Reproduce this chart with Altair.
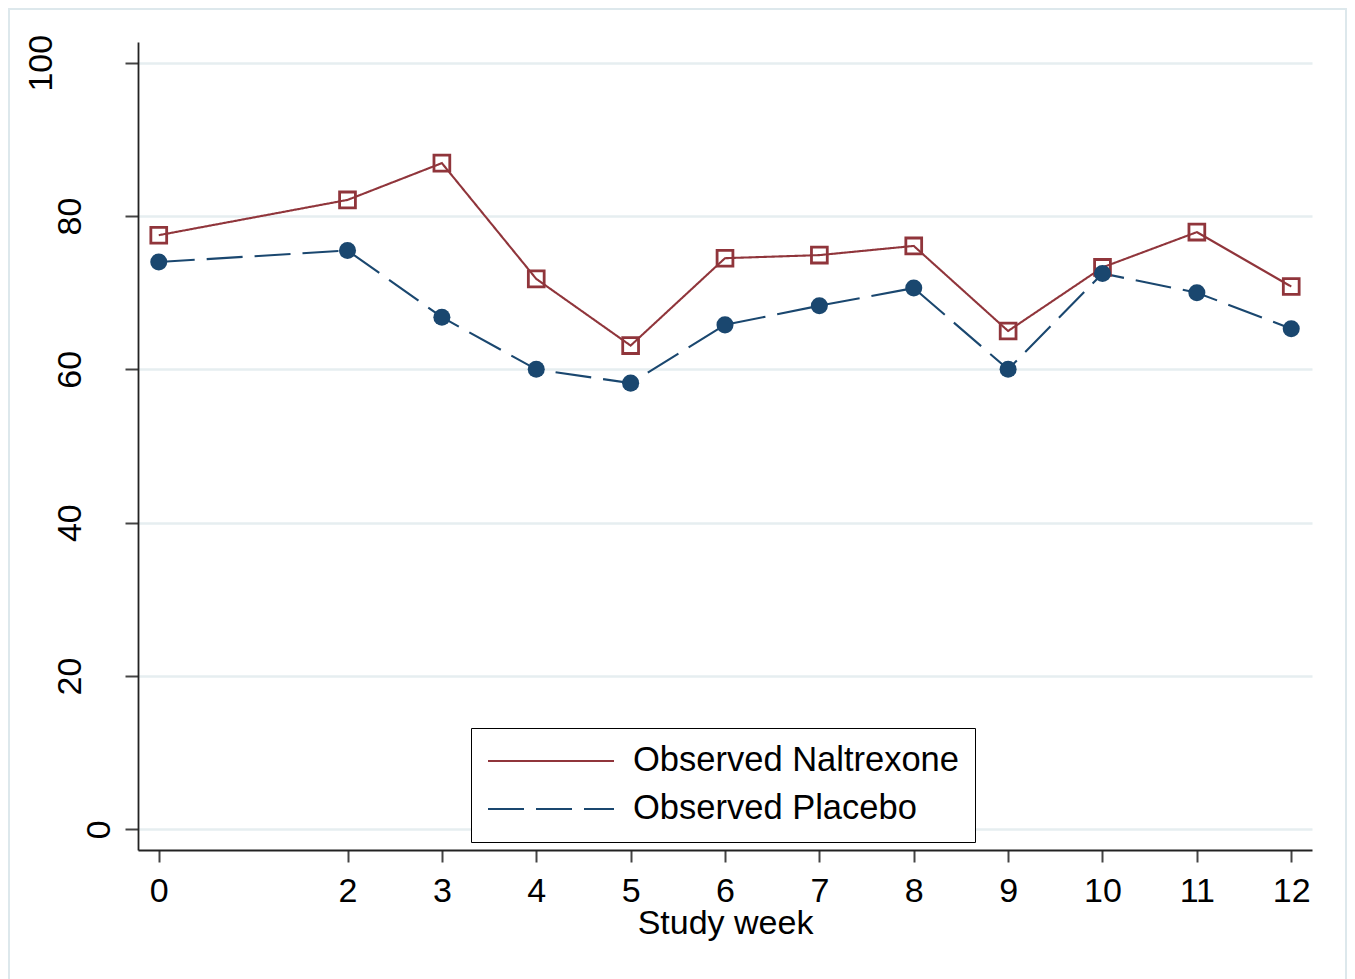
import altair as alt
import pandas as pd

weeks = [0, 2, 3, 4, 5, 6, 7, 8, 9, 10, 11, 12]
naltrexone = [77.5, 82.1, 86.9, 71.8, 63.1, 74.5, 74.9, 76.1, 65.0, 73.3, 77.9, 70.8]
placebo = [74.0, 75.5, 66.8, 60.0, 58.2, 65.8, 68.3, 70.6, 60.0, 72.5, 70.0, 65.3]
series_names = ["Observed Naltrexone", "Observed Placebo"]
y_ticks = [0, 20, 40, 60, 80, 100]
x_title = "Study week"

RED = "#90353B"
NAVY = "#1A476F"
GRID = "#E6EEF0"
FONT = "Liberation Sans"

rows = []
for w, v in zip(weeks, naltrexone):
    rows.append({"week": w, "value": v, "series": series_names[0]})
for w, v in zip(weeks, placebo):
    rows.append({"week": w, "value": v, "series": series_names[1]})
df = pd.DataFrame(rows)
df_n = df[df.series == series_names[0]]
df_p = df[df.series == series_names[1]]

xscale = alt.Scale(domain=[-0.22, 12.22], nice=False, zero=False)
yscale = alt.Scale(domain=[-2.7, 102.7], nice=False, zero=False)

xaxis = alt.Axis(
    values=weeks, format="d", title=x_title, grid=False, tickSize=12, tickWidth=2,
    tickColor="#444444", domainColor="#222222", domainWidth=1.8,
    labelFont=FONT, labelFontSize=34, labelColor="black",
    labelBaseline="alphabetic", labelPadding=39, labelFlush=False,
    titleFont=FONT, titleFontSize=34, titleFontWeight="normal", titleColor="black",
    titleBaseline="alphabetic", titleY=83,
)
yaxis = alt.Axis(
    values=y_ticks, format="d", title=None, grid=True, gridColor=GRID, gridWidth=2.5,
    tickSize=13, tickWidth=2, tickColor="#444444", domainColor="#222222", domainWidth=1.8,
    labelFont=FONT, labelFontSize=34, labelColor="black", labelAngle=270,
    labelAlign="center", labelBaseline="alphabetic", labelFlush=False,
    labelPadding={"condition": [{"test": "datum.value == 0", "value": 16},
                                {"test": "datum.value == 100", "value": 74}],
                  "value": 45},
)

color = alt.Color("series:N", scale=alt.Scale(domain=series_names, range=[RED, NAVY]),
                  legend=alt.Legend(
                      title=None, orient="none", legendX=333, legendY=686,
                      symbolType="stroke", symbolSize=15876, symbolStrokeWidth=2,
                      clipHeight=34, labelOffset=18, rowPadding=13, padding=16,
                      labelFont=FONT, labelFontSize=34.5, labelColor="black", labelLimit=0,
                      strokeColor="black", fillColor="white",
                  ))
dash = alt.StrokeDash("series:N", scale=alt.Scale(domain=series_names, range=[[1, 0], [36, 12]]),
                      legend=alt.Legend(title=None, orient="none", legendX=333, legendY=686))

base_x = alt.X("week:Q", scale=xscale, axis=xaxis)
base_y = alt.Y("value:Q", scale=yscale, axis=yaxis)

frame = alt.Chart(pd.DataFrame({"a": [0]})).mark_rect(
    fill="transparent", stroke="#DDE8EC", strokeWidth=2
).encode(x=alt.value(-129), x2=alt.value(1208), y=alt.value(-33), y2=alt.value(945))

lines = alt.Chart(df).mark_line(strokeWidth=2.1).encode(
    x=base_x, y=base_y, color=color, strokeDash=dash, order="week:Q"
)
squares = alt.Chart(df_n).mark_point(
    shape="square", filled=False, size=250, strokeWidth=2.8, color=RED, opacity=1
).encode(x=alt.X("week:Q", scale=xscale), y=alt.Y("value:Q", scale=yscale))
circles = alt.Chart(df_p).mark_circle(size=290, color=NAVY, opacity=1).encode(
    x=alt.X("week:Q", scale=xscale), y=alt.Y("value:Q", scale=yscale)
)

chart = alt.layer(lines, squares, circles, frame).properties(
    width=1174, height=808,
    autosize=alt.AutoSizeParams(type="none"),
    padding={"left": 130, "top": 34, "right": 35, "bottom": 140},
    background="white",
).configure_view(stroke="transparent")

chart.save("out.html", embed_options={"renderer": "svg", "actions": False})
